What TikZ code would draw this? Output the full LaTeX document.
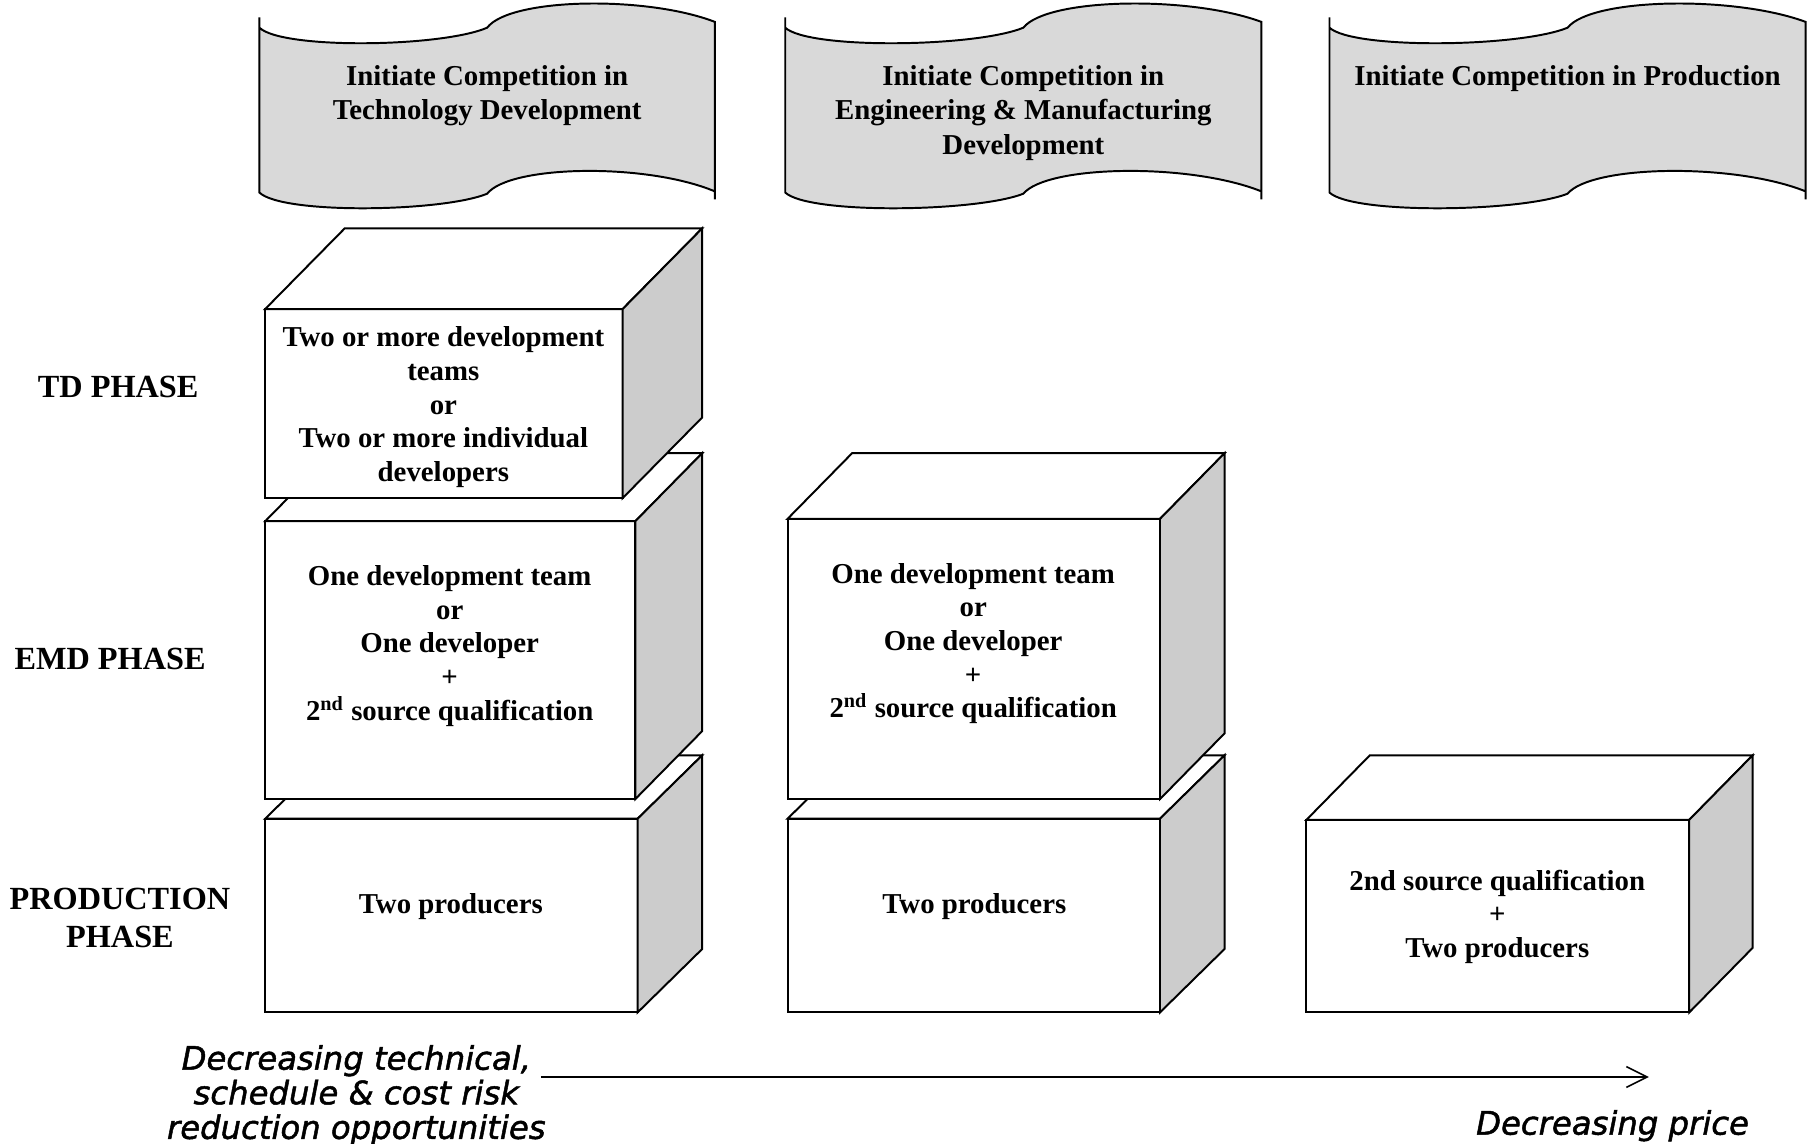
\documentclass[tikz,border=0pt]{standalone}
\usepackage{fontspec}
\setmainfont{Liberation Serif}
\newfontfamily\obl{DejaVu Sans}[ItalicFeatures={FakeBold=1.5}]
\usetikzlibrary{calc,fit,arrows.meta}
\tikzset{
  face/.style={draw, fill=white, line width=0.85pt, inner sep=0pt, outer sep=0pt},
  topface/.style={draw, fill=white, line width=0.85pt, line join=miter},
  sideface/.style={draw, fill=gray!40, line width=0.85pt, line join=miter},
  bannerbox/.style={draw, fill=gray!30, line width=0.85pt},
  boxtext/.style={font=\bfseries\fontsize{12.5}{14.6}\selectfont, align=center, inner sep=0pt},
  bantext/.style={font=\bfseries\fontsize{12.5}{15}\selectfont, align=center, inner sep=0pt},
  phasetext/.style={font=\bfseries\fontsize{14}{16.5}\selectfont, align=center, inner sep=0pt},
  notetext/.style={font=\obl\itshape\fontsize{14}{15}\selectfont, align=center, inner sep=0pt},
  riskarrow/.style={line width=0.7pt, -{Straight Barb[length=9pt,width=9pt]}}
}
\newcommand\cuboid[7]{%
  \node[face, fit={(#2,#3) (#4,#5)}] (#1) {};
  \draw[topface] (#1.north west) -- ++(#6,-#7) -- ($(#1.north east)+(#6,-#7)$) -- (#1.north east) -- cycle;
  \draw[sideface] (#1.north east) -- ++(#6,-#7) -- ($(#1.south east)+(#6,-#7)$) -- (#1.south east) -- cycle;
}
\newcommand\banner[2]{%
  \draw[bannerbox] (#1,15) -- (#1,24)
    .. controls ({#1+0.05*#2},43) and ({#1+0.4*#2},41) .. ({#1+0.5*#2},24)
    .. controls ({#1+0.55*#2},-2) and ({#1+0.85*#2},-4) .. ({#1+#2},19)
    -- ({#1+#2},173) -- ({#1+#2},166)
    .. controls ({#1+0.85*#2},141) and ({#1+0.55*#2},143) .. ({#1+0.5*#2},168)
    .. controls ({#1+0.4*#2},184) and ({#1+0.05*#2},186) .. (#1,167) -- cycle;
}
\begin{document}
\begin{tikzpicture}[x=0.5pt, y=-0.5pt]
\useasboundingbox (0,0) rectangle (1568,992);
\fill[white] (0,0) rectangle (1568,992);

% banners
\banner{225}{395}
\banner{681}{413}
\banner{1153}{413}
\node[bantext, anchor=north] (b1) at (422.5,56) {Initiate Competition in\\Technology Development};
\node[bantext, anchor=north] (b2) at (887.5,56) {Initiate Competition in\\Engineering \& Manufacturing\\Development};
\node[bantext, anchor=north] (b3) at (1359.5,56) {Initiate Competition in Production};

% column 1
\cuboid{p1}{230}{710}{553}{878}{56}{55}
\node[boxtext, anchor=base] (p1t) at (391,792) {Two producers};
\cuboid{e1}{230}{452}{551}{693}{58}{59}
\node[boxtext, anchor=north] (e1t) at (390,490) {One development team\\or\\One developer\\+\\2\textsuperscript{nd} source qualification};
\cuboid{d1}{230}{268}{540}{432}{69}{70}
\node[boxtext, anchor=north] (d1t) at (384.5,283) {Two or more development\\teams\\or\\Two or more individual\\developers};

% column 2
\cuboid{p2}{683}{710}{1006}{878}{56}{55}
\node[boxtext, anchor=base] (p2t) at (845,792) {Two producers};
\cuboid{e2}{683}{450}{1006}{693}{56}{57}
\node[boxtext, anchor=north] (e2t) at (844,488) {One development team\\or\\One developer\\+\\2\textsuperscript{nd} source qualification};

% column 3
\cuboid{p3}{1133}{711}{1465}{878}{55}{56}
\node[boxtext, anchor=north] (p3t) at (1298.5,754) {2nd source qualification\\+\\Two producers};

% phase labels
\node[phasetext, anchor=base] (tdl) at (102.5,345) {TD PHASE};
\node[phasetext, anchor=base] (emdl) at (95.5,581) {EMD PHASE};
\node[phasetext, anchor=north] (prl) at (104,770) {PRODUCTION\\PHASE};

% bottom notes and arrow
\node[notetext, anchor=north] (risk) at (309,906) {Decreasing technical,\\schedule \& cost risk\\reduction opportunities};
\node[notetext, anchor=base] (price) at (1398.5,984) {Decreasing price};
\coordinate (arrS) at (469,934);
\coordinate (arrE) at (1430,934);
\draw[riskarrow] (arrS) -- (arrE);
\end{tikzpicture}
\end{document}
